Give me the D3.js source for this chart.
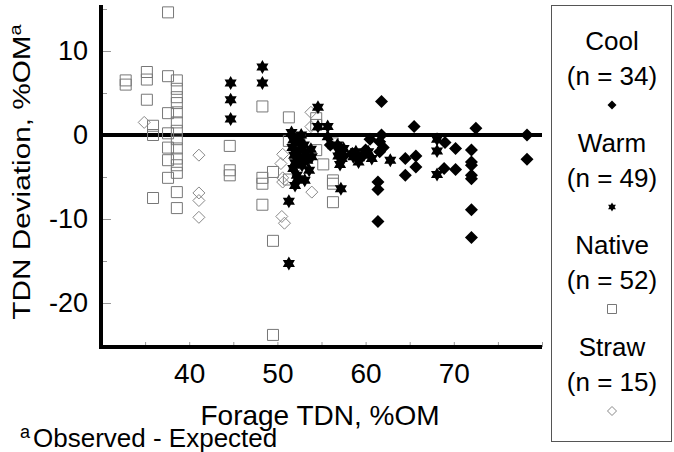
<!DOCTYPE html>
<html>
<head>
<meta charset="utf-8">
<script src="https://cdn.jsdelivr.net/npm/d3@7"></script>
<style>
  body { margin: 0; background: #fff; }
  svg { font-family: "Liberation Sans", Arial, sans-serif; }
</style>
</head>
<body>
<svg id="chart" width="674" height="452"></svg>
<script>
// [Forage TDN %OM, TDN deviation %OM]
const cool = [
  [61.8, 4.0], [65.5, 1.0], [72.5, 0.8], [78.3, 0.0], [78.3, -2.9], [61.8, 0.0],
  [61.6, -0.8], [61.6, -2.0], [61.4, -5.6], [61.4, -6.5], [61.4, -10.3], [64.5, -2.8],
  [64.5, -4.8], [65.7, -2.5], [65.7, -3.8], [69.0, -0.9], [70.2, -1.6], [68.9, -4.0],
  [70.2, -4.1], [72.0, -1.8], [72.0, -3.2], [72.0, -3.6], [72.0, -4.8], [72.0, -5.2],
  [72.0, -8.9], [72.0, -12.2], [57.0, -1.5], [57.5, -2.5], [58.5, -2.2], [59.5, -2.6],
  [60.0, -1.8], [56.0, -1.2], [62.0, -1.5], [60.5, -0.5]
];
const warm = [
  [44.7, 6.2], [44.7, 4.2], [44.7, 1.9], [48.3, 8.1], [48.3, 6.2], [54.6, 3.3],
  [54.6, 1.0], [55.7, 1.0], [55.7, -0.2], [51.3, -7.9], [51.3, -15.3], [57.2, -6.4],
  [60.7, -2.8], [62.8, -3.0], [68.1, -0.5], [68.1, -1.9], [68.1, -4.7],
  [51.6, 0.3], [51.8, -0.6], [51.7, -1.5], [51.9, -2.4], [52.0, -3.3], [51.8, -4.0],
  [52.2, -4.8], [52.4, -0.8], [52.5, -1.8], [52.6, -2.7], [52.8, -3.6], [52.3, -5.2],
  [53.0, -1.2], [53.2, -2.2], [53.4, -3.0], [53.6, -4.2], [53.1, -5.4], [52.0, -6.0],
  [53.8, -1.7], [53.9, -2.6], [52.7, 0.0],
  [56.8, -1.2], [57.0, -2.0], [57.3, -2.8], [57.1, -3.5], [57.5, -1.6], [56.9, -2.5],
  [58.6, -2.6], [59.2, -3.2], [59.8, -2.4], [60.3, -2.0], [58.9, -2.0]
];
const native = [
  [32.8, 6.5], [32.8, 6.0], [35.2, 7.5], [35.2, 6.6], [35.2, 4.2],
  [35.9, 1.1], [35.9, 0.0], [35.9, -7.5],
  [37.6, 14.6], [37.6, 7.0], [37.6, 2.6], [37.6, 0.2], [37.6, -1.5], [37.6, -3.0], [37.6, -5.1],
  [38.6, 6.5], [38.6, 5.5], [38.6, 4.5], [38.6, 3.8], [38.6, 2.7], [38.6, 1.5], [38.6, 0.5],
  [38.6, -0.5], [38.6, -1.6], [38.6, -2.8], [38.6, -3.6], [38.6, -4.5], [38.6, -6.8], [38.6, -8.7],
  [44.6, -1.3], [44.6, -4.2], [44.6, -4.8],
  [48.3, 3.4], [48.3, -5.1], [48.3, -5.8], [48.3, -8.3],
  [49.5, -4.4], [49.5, -12.6], [49.5, -23.8],
  [51.3, 2.1], [51.3, -0.7], [51.3, -5.3], [52.5, -0.4],
  [54.4, 2.0], [54.4, 1.2], [54.4, -1.8],
  [56.3, -1.0], [56.3, -5.4], [56.3, -5.8], [56.3, -8.0],
  [53.0, -2.6], [55.2, -3.5]
];
const straw = [
  [34.9, 1.5], [41.1, -2.4], [41.1, -6.9], [41.1, -7.8], [41.1, -9.8],
  [53.8, 2.7], [53.8, 1.0], [50.6, -2.3], [50.4, -3.4], [50.6, -5.1],
  [50.6, -5.6], [53.9, -6.8], [50.5, -9.7], [50.8, -10.5], [52.0, -4.0]
];
const xTicks = [30, 35, 40, 45, 50, 55, 60, 65, 70, 75, 80];
const xLabels = [40, 50, 60, 70];
const yTicks = [15, 10, 5, 0, -5, -10, -15, -20];
const yLabels = [10, 0, -10, -20];

const svg = d3.select('#chart');
const x = d3.scaleLinear().domain([30, 80]).range([101, 542]);
const y = d3.scaleLinear().domain([-25, 15]).range([345, 9]);

// hexagram marker
function star(r) {
  let p = d3.path();
  [-90, 90].forEach(a0 => {
    [0, 120, 240].forEach((da, i) => {
      let a = (a0 + da) * Math.PI / 180;
      if (i === 0) p.moveTo(r * Math.cos(a), r * Math.sin(a));
      else p.lineTo(r * Math.cos(a), r * Math.sin(a));
    });
    p.closePath();
  });
  return p.toString();
}
function diamond(r) {
  return `M0,${-r}L${r},0L0,${r}L${-r},0Z`;
}
function square(r) {
  return `M${-r},${-r}H${r}V${r}H${-r}Z`;
}

// axes
const xAxis = d3.axisBottom(x).tickValues(xTicks).tickSize(-5).tickSizeOuter(0).tickPadding(16)
  .tickFormat(d => xLabels.includes(d) ? d : '');
const gx = svg.append('g').attr('transform', `translate(0,${y(-25) + 2})`).call(xAxis);
gx.select('.domain').remove();
gx.selectAll('.tick line').attr('stroke', '#999').attr('stroke-width', 1);
gx.selectAll('.tick text').attr('font-size', 28).attr('fill', '#000')
  .style('font-family', '"Liberation Sans", Arial, sans-serif');

const yAxis = d3.axisLeft(y).tickValues(yTicks).tickSize(-10).tickSizeOuter(0).tickPadding(13)
  .tickFormat(d => yLabels.includes(d) ? d : '');
const gy = svg.append('g').attr('transform', `translate(${x(30)},0)`).call(yAxis);
gy.select('.domain').remove();
gy.selectAll('.tick line').attr('stroke', '#999').attr('stroke-width', 1)
  .attr('x2', d => yLabels.includes(d) ? 10 : 6);
gy.selectAll('.tick text').attr('font-size', 27).attr('fill', '#000')
  .style('font-family', '"Liberation Sans", Arial, sans-serif');

svg.append('line').attr('x1', x(30)).attr('x2', x(30)).attr('y1', 5).attr('y2', y(-25) + 4)
  .attr('stroke', '#000').attr('stroke-width', 4);
svg.append('line').attr('x1', x(30) - 2).attr('x2', x(80)).attr('y1', y(-25) + 2).attr('y2', y(-25) + 2)
  .attr('stroke', '#000').attr('stroke-width', 4);
svg.append('line').attr('x1', x(30)).attr('x2', x(80)).attr('y1', y(0)).attr('y2', y(0))
  .attr('stroke', '#000').attr('stroke-width', 4);

// points
const series = [
  { data: native, path: square(5.5), fill: 'none', stroke: '#777' },
  { data: straw, path: diamond(6), fill: 'none', stroke: '#888' },
  { data: warm, path: star(7), fill: '#000', stroke: 'none' },
  { data: cool, path: diamond(6.5), fill: '#000', stroke: 'none' }
];
series.forEach(s => {
  svg.append('g').selectAll('path').data(s.data).enter().append('path')
    .attr('transform', d => `translate(${x(d[0])},${y(d[1])})`)
    .attr('d', s.path)
    .attr('fill', s.fill)
    .attr('stroke', s.stroke)
    .attr('stroke-width', 1);
});

// axis titles
svg.append('text').attr('x', 320).attr('y', 425).attr('text-anchor', 'middle')
  .attr('font-size', 28).text('Forage TDN, %OM');
// the y title is drawn wider than tall in the original
const yt = svg.append('text').attr('transform', 'translate(30,172) rotate(-90) scale(1.24,1)')
  .attr('text-anchor', 'middle').attr('font-size', 24).text('TDN Deviation, %OM');
yt.append('tspan').attr('font-size', 16).attr('dy', -9).text('a');

const foot = svg.append('text').attr('x', 20).attr('y', 447).attr('font-size', 26);
foot.append('tspan').attr('font-size', 18).attr('dy', -9).text('a');
foot.append('tspan').attr('dy', 9).attr('dx', 3).text('Observed - Expected');

// legend
const legendNames = ['Cool', 'Warm', 'Native', 'Straw'];
const legendStyle = [
  { path: diamond(4.5), fill: '#000', stroke: 'none', data: cool },
  { path: star(4.5), fill: '#000', stroke: 'none', data: warm },
  { path: square(4.5), fill: 'none', stroke: '#777', data: native },
  { path: diamond(4.5), fill: 'none', stroke: '#888', data: straw }
];
svg.append('rect').attr('x', 551.5).attr('y', 5.5).attr('width', 120).attr('height', 436)
  .attr('fill', 'none').attr('stroke', '#555').attr('stroke-width', 1);
const lg = svg.append('g').selectAll('g').data(legendNames).enter().append('g')
  .attr('transform', (d, i) => `translate(612,${i * 102})`);
lg.append('text').attr('y', 50).attr('text-anchor', 'middle').attr('font-size', 26).text(d => d);
lg.append('text').attr('y', 85).attr('text-anchor', 'middle').attr('font-size', 26)
  .text((d, i) => `(n = ${legendStyle[i].data.length})`);
lg.append('path').attr('transform', 'translate(0,105)')
  .attr('d', (d, i) => legendStyle[i].path)
  .attr('fill', (d, i) => legendStyle[i].fill)
  .attr('stroke', (d, i) => legendStyle[i].stroke);
</script>
</body>
</html>
